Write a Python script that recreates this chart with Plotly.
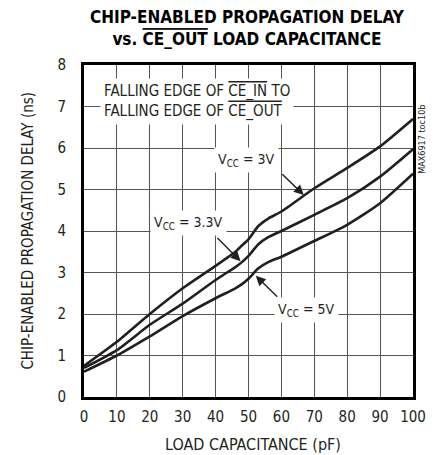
import plotly.graph_objects as go

cap = [0, 10, 20, 30, 40, 46, 48, 50, 53, 56, 60, 70, 80, 90, 100]
vcc_3v = [0.75, 1.33, 2.0, 2.62, 3.16, 3.5, 3.65, 3.8, 4.12, 4.3, 4.47, 5.03, 5.52, 6.04, 6.7]
vcc_33v = [0.70, 1.13, 1.74, 2.25, 2.82, 3.13, 3.25, 3.4, 3.68, 3.85, 4.0, 4.39, 4.79, 5.31, 5.97]
vcc_5v = [0.61, 1.0, 1.46, 1.95, 2.38, 2.62, 2.72, 2.85, 3.1, 3.25, 3.38, 3.76, 4.15, 4.67, 5.38]

FONT = "DejaVu Sans Condensed, Liberation Sans Narrow, Arial Narrow, sans-serif"
INK = "#231f20"
OL = '<span style="text-decoration:overline">%s</span>'

f = go.Figure()
for ys in (vcc_3v, vcc_33v, vcc_5v):
    f.add_trace(go.Scatter(x=cap, y=ys, mode="lines", showlegend=False,
                           line=dict(color=INK, width=2.6, shape="spline", smoothing=0.6)))

ax = dict(showgrid=True, gridcolor="#555555", gridwidth=1.2, zeroline=False,
          showline=True, linecolor="#000000", linewidth=3, mirror=True, ticks="",
          tickfont=dict(family=FONT, size=15, color=INK))
f.update_xaxes(range=[0, 100], dtick=10, ticklabelstandoff=4, **ax)
f.update_yaxes(range=[0, 8], dtick=1, ticklabelstandoff=12, **ax)

def label(x, y, txt, size=14, **kw):
    f.add_annotation(x=x, y=y, text=txt, showarrow=False, bgcolor="white", borderpad=3,
                     font=dict(family=FONT, size=size, color=INK), **kw)

def arrow(x0, y0, x1, y1):
    f.add_annotation(x=x1, y=y1, ax=x0, ay=y0, axref="x", ayref="y", text="",
                     showarrow=True, arrowhead=2, arrowsize=1.4, arrowwidth=1.4,
                     arrowcolor=INK, standoff=0)

label(5.0, 7.12, "FALLING EDGE OF " + OL % "CE_IN" + " TO<br>FALLING EDGE OF " + OL % "CE_OUT",
      size=15, xanchor="left", align="left")
label(49.5, 5.72, "V<sub>CC</sub> = 3V")
arrow(59.8, 5.40, 66.8, 4.87)
label(31.7, 4.2, "V<sub>CC</sub> = 3.3V")
arrow(40.1, 3.87, 47.6, 3.27)
label(67.6, 2.10, "V<sub>CC</sub> = 5V")
arrow(59.2, 2.38, 52.2, 2.92)

f.add_annotation(xref="paper", yref="paper", x=-0.205, y=0.5, text="CHIP-ENABLED PROPAGATION DELAY (ns)",
                 textangle=-90, showarrow=False, font=dict(family=FONT, size=15, color=INK))
f.add_annotation(xref="paper", yref="paper", x=0.514, y=-0.143, yanchor="middle", text="LOAD CAPACITANCE (pF)",
                 showarrow=False, font=dict(family=FONT, size=16, color=INK))
f.add_annotation(xref="paper", yref="paper", x=1.05, y=0.886, text="MAX6917 toc10b",
                 textangle=-90, showarrow=False, font=dict(family=FONT, size=9, color=INK))
f.add_annotation(xref="paper", yref="paper", x=0.498, y=1.11, yanchor="middle",
                 text="<b>CHIP-ENABLED PROPAGATION DELAY<br>vs. " + OL % "CE_OUT" + " LOAD CAPACITANCE</b>",
                 showarrow=False, font=dict(family=FONT, size=17, color="#000000"))

# page body has an 8px margin, so the margins are shifted to land the plot where the reference has it
f.update_layout(width=434, height=455, margin=dict(l=76, r=29, t=57, b=66),
                plot_bgcolor="white", paper_bgcolor="white")
f.write_html("out.html")
